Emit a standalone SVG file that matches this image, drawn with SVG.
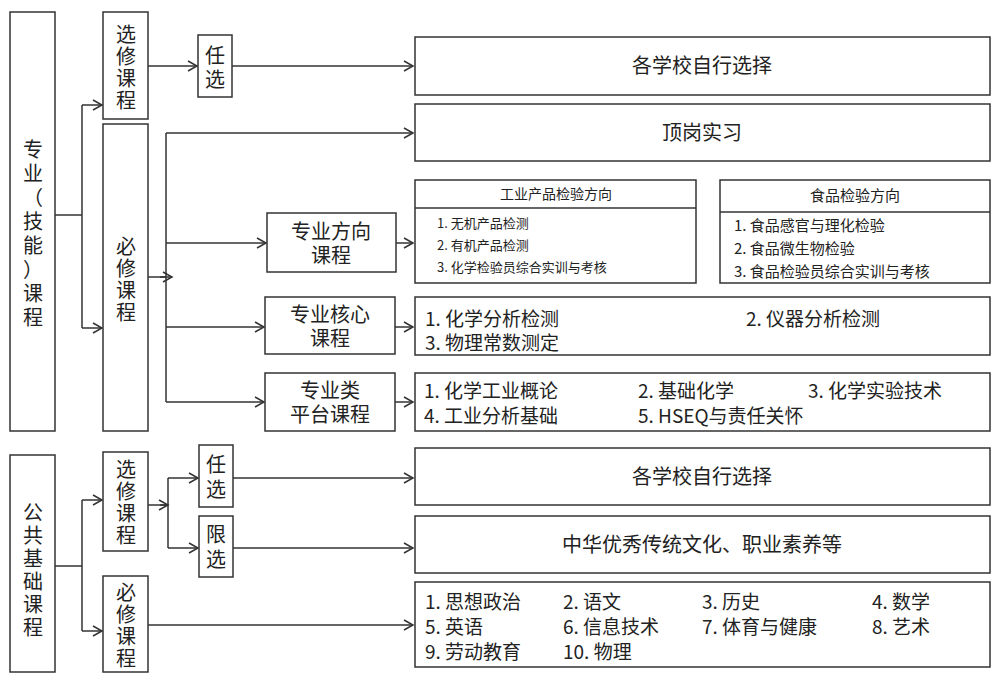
<svg xmlns="http://www.w3.org/2000/svg" width="1000" height="684" viewBox="0 0 1000 684">
<defs>
<style>
rect{fill:#fff;stroke:#333;stroke-width:1.5}
text{font-family:"Noto Sans CJK SC","Liberation Sans",sans-serif;fill:#222}
.c{text-anchor:middle;font-size:20px}
.s{font-size:13px}
.m{font-size:19px}
#conn path{fill:none;stroke:#333;stroke-width:1.5;marker-end:url(#a)}
#conn line{stroke:#333;stroke-width:1.5}
</style>
<marker id="a" markerWidth="12" markerHeight="12" refX="10" refY="6" orient="auto" markerUnits="userSpaceOnUse"><path d="M1,1 L10,6 L1,11" fill="none" stroke="#333" stroke-width="1.5"/></marker>
</defs>
<g id="conn">
<line x1="55" y1="215" x2="82" y2="215"/><line x1="82" y1="105" x2="82" y2="328"/>
<path d="M82,105H102"/><path d="M82,328H102"/>
<path d="M148,66H197"/><path d="M232,66H413"/>
<line x1="148" y1="277" x2="166" y2="277"/><path d="M160,277H172" style="marker-end:url(#a)"/>
<line x1="166" y1="133" x2="166" y2="402"/>
<path d="M166,133H413"/><path d="M166,243H266"/><path d="M166,327H264"/><path d="M166,402H264"/>
<path d="M396,243H413"/><path d="M395,327H413"/><path d="M395,402H413"/>
<line x1="55" y1="566" x2="82" y2="566"/><line x1="82" y1="500" x2="82" y2="631"/>
<path d="M82,500H102"/><path d="M82,631H102"/>
<line x1="148" y1="505" x2="168" y2="505"/><path d="M160,505H168"/>
<line x1="168" y1="478" x2="168" y2="548"/>
<path d="M168,478H198"/><path d="M168,548H198"/>
<path d="M233,478H413"/><path d="M233,548H413"/><path d="M148,625H413"/>
</g>
<g id="n-zy"><rect x="10" y="12" width="45" height="419"/>
<text class="c"><tspan x="33" y="157">专</tspan><tspan x="33" y="181">业</tspan><tspan x="33" y="205">（</tspan><tspan x="33" y="229">技</tspan><tspan x="33" y="253">能</tspan><tspan x="33" y="277">）</tspan><tspan x="33" y="301">课</tspan><tspan x="33" y="325">程</tspan></text></g>
<g id="n-xx1"><rect x="103" y="12" width="45" height="107"/>
<text class="c"><tspan x="126" y="42">选</tspan><tspan x="126" y="64">修</tspan><tspan x="126" y="86">课</tspan><tspan x="126" y="108">程</tspan></text></g>
<g id="n-bx1"><rect x="103" y="124" width="45" height="307"/>
<text class="c"><tspan x="126" y="254">必</tspan><tspan x="126" y="276">修</tspan><tspan x="126" y="298">课</tspan><tspan x="126" y="320">程</tspan></text></g>
<g id="n-rx1"><rect x="198" y="35" width="34" height="62"/>
<text class="c"><tspan x="215" y="63">任</tspan><tspan x="215" y="87">选</tspan></text></g>
<g id="n-gx1"><rect x="415" y="37" width="575" height="58"/><text class="c" x="702" y="73">各学校自行选择</text></g>
<g id="n-dg"><rect x="415" y="104" width="575" height="57"/><text class="c" x="702" y="140">顶岗实习</text></g>
<g id="n-fx"><rect x="267" y="213" width="129" height="59"/>
<text class="c"><tspan x="331" y="239">专业方向</tspan><tspan x="331" y="263">课程</tspan></text></g>
<g id="n-hx"><rect x="265" y="297" width="130" height="57"/>
<text class="c"><tspan x="330" y="322">专业核心</tspan><tspan x="330" y="346">课程</tspan></text></g>
<g id="n-pt"><rect x="265" y="373" width="130" height="58"/>
<text class="c"><tspan x="330" y="398">专业类</tspan><tspan x="330" y="422">平台课程</tspan></text></g>
<g id="n-gy"><rect x="415" y="180" width="281" height="103"/><line x1="415" y1="208" x2="696" y2="208" stroke="#333" stroke-width="1.5"/>
<text class="c s" x="556" y="199" style="font-size:14px">工业产品检验方向</text>
<text class="s" x="437" y="228">1. 无机产品检测</text><text class="s" x="437" y="250">2. 有机产品检测</text><text class="s" x="437" y="272">3. 化学检验员综合实训与考核</text></g>
<g id="n-sp"><rect x="720" y="180" width="270" height="103"/><line x1="720" y1="212" x2="990" y2="212" stroke="#333" stroke-width="1.5"/>
<text class="c" x="855" y="201" style="font-size:15px">食品检验方向</text>
<text x="734" y="231" style="font-size:15px">1. 食品感官与理化检验</text><text x="734" y="254" style="font-size:15px">2. 食品微生物检验</text><text x="734" y="277" style="font-size:15px">3. 食品检验员综合实训与考核</text></g>
<g id="n-hxk"><rect x="415" y="297" width="575" height="58"/>
<text class="m" x="425" y="326">1. 化学分析检测</text><text class="m" x="746" y="326">2. 仪器分析检测</text><text class="m" x="425" y="350">3. 物理常数测定</text></g>
<g id="n-ptk"><rect x="415" y="373" width="575" height="58"/>
<text class="m" x="424" y="398">1. 化学工业概论</text><text class="m" x="638" y="398">2. 基础化学</text><text class="m" x="808" y="398">3. 化学实验技术</text>
<text class="m" x="424" y="423">4. 工业分析基础</text><text class="m" x="638" y="423">5. HSEQ与责任关怀</text></g>
<g id="n-gg"><rect x="10" y="455" width="45" height="217"/>
<text class="c"><tspan x="33" y="520">公</tspan><tspan x="33" y="543">共</tspan><tspan x="33" y="566">基</tspan><tspan x="33" y="589">础</tspan><tspan x="33" y="612">课</tspan><tspan x="33" y="635">程</tspan></text></g>
<g id="n-xx2"><rect x="103" y="452" width="45" height="99"/>
<text class="c"><tspan x="126" y="477">选</tspan><tspan x="126" y="499">修</tspan><tspan x="126" y="521">课</tspan><tspan x="126" y="543">程</tspan></text></g>
<g id="n-bx2"><rect x="103" y="576" width="45" height="96"/>
<text class="c"><tspan x="126" y="600">必</tspan><tspan x="126" y="622">修</tspan><tspan x="126" y="644">课</tspan><tspan x="126" y="666">程</tspan></text></g>
<g id="n-rx2"><rect x="199" y="445" width="34" height="62"/>
<text class="c"><tspan x="216" y="472">任</tspan><tspan x="216" y="497">选</tspan></text></g>
<g id="n-limx"><rect x="199" y="516" width="34" height="61"/>
<text class="c"><tspan x="216" y="542">限</tspan><tspan x="216" y="567">选</tspan></text></g>
<g id="n-gx2"><rect x="415" y="448" width="575" height="57"/><text class="c" x="702" y="484">各学校自行选择</text></g>
<g id="n-zh"><rect x="415" y="516" width="575" height="57"/><text class="c" x="702" y="552">中华优秀传统文化、职业素养等</text></g>
<g id="n-bxk"><rect x="415" y="582" width="575" height="85"/>
<text class="m" x="425" y="609">1. 思想政治</text><text class="m" x="563" y="609">2. 语文</text><text class="m" x="702" y="609">3. 历史</text><text class="m" x="872" y="609">4. 数学</text>
<text class="m" x="425" y="634">5. 英语</text><text class="m" x="563" y="634">6. 信息技术</text><text class="m" x="702" y="634">7. 体育与健康</text><text class="m" x="872" y="634">8. 艺术</text>
<text class="m" x="425" y="659">9. 劳动教育</text><text class="m" x="563" y="659">10. 物理</text></g>
</svg>
